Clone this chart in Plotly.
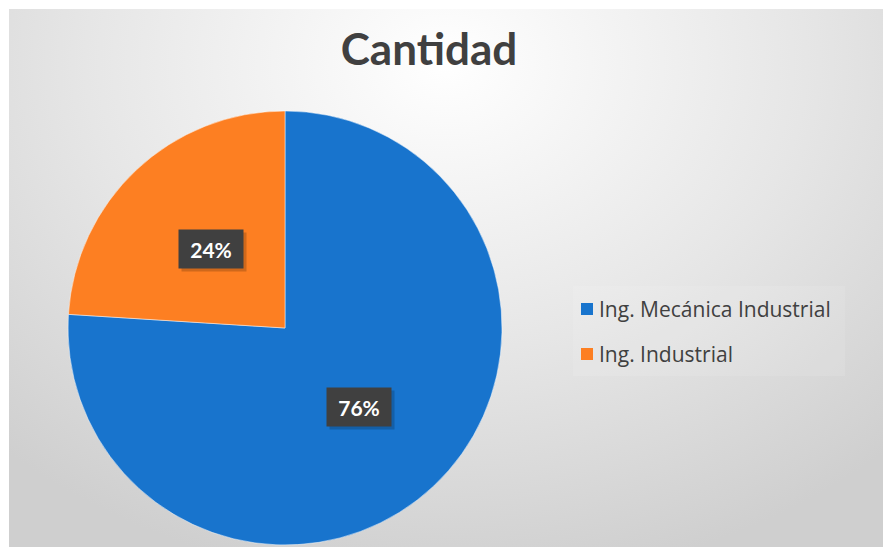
import base64
import math
import plotly.graph_objects as go

# ---- data ----
categories = ["Ing. Mecánica Industrial", "Ing. Industrial"]
values = [76, 24]
colors = ["#1874cd", "#fd7f22"]
title_text = "Cantidad"

W, H = 883, 547
BORDER = 9  # white frame on the left and top of the reference

# background radial gradient (svg data uri)
BW, BH = W - BORDER, H - BORDER
svg = f'''<svg xmlns="http://www.w3.org/2000/svg" width="{BW}" height="{BH}" viewBox="0 0 {BW} {BH}" preserveAspectRatio="none">
<defs><radialGradient id="g" cx="0.5" cy="0.1" r="0.75" gradientUnits="objectBoundingBox" gradientTransform="translate(0.5 0.1) scale(1 1.3) translate(-0.5 -0.1)">
<stop offset="0" stop-color="#ffffff"/><stop offset="0.55" stop-color="#e6e6e6"/><stop offset="1" stop-color="#cfcfcf"/></radialGradient></defs>
<rect x="0" y="0" width="{BW}" height="{BH}" fill="url(#g)"/></svg>'''
bg_src = "data:image/svg+xml;base64," + base64.b64encode(svg.encode()).decode()

def px(x):
    return x / W

def py(y):
    return 1 - y / H

# pie geometry in pixels
cx_px, cy_px, R = 285, 328, 217
dom_x = [px(cx_px - R), px(cx_px + R)]
dom_y = [py(cy_px + R), py(cy_px - R)]

fig = go.Figure(go.Pie(
    labels=categories, values=values, sort=False, direction="clockwise", rotation=0,
    marker=dict(colors=colors, line=dict(color="rgba(255,255,255,0.6)", width=0.8)),
    textinfo="none", hoverinfo="label+percent", showlegend=False,
    domain=dict(x=dom_x, y=dom_y),
))

annotations = []
shapes = []
total = sum(values)
cum = 0
for v in values:
    start = 90 - 360 * cum / total
    mid = math.radians(start - 360 * v / total / 2)
    cum += v
    dx = 0.5 * R * math.cos(mid)
    dy = 0.5 * R * math.sin(mid)
    x = px(cx_px + dx)
    y = py(cy_px - dy)
    pct = f"{round(100 * v / total)}%"
    # shadow
    annotations.append(dict(x=x + 3 / W, y=y - 3 / H, xref="paper", yref="paper", text=" ",
                            xanchor="center", yanchor="middle",
                            showarrow=False, bgcolor="rgba(0,0,0,0.18)", width=48, height=22,
                            borderpad=8, font=dict(size=21)))
    annotations.append(dict(x=x, y=y, xref="paper", yref="paper", text=f"<b>{pct}</b>",
                            xanchor="center", yanchor="middle",
                            showarrow=False, bgcolor="#404040", width=48, height=22, borderpad=8,
                            font=dict(family="Lato", size=21, color="white")))

# legend (manual)
leg_x0 = 581
leg_y = [309, 354]
shapes.append(dict(type="rect", xref="paper", yref="paper", x0=px(573), x1=px(845),
                   y0=py(376), y1=py(286), fillcolor="rgba(255,255,255,0.1)",
                   line=dict(width=0), layer="below"))
for cat, col, ly in zip(categories, colors, leg_y):
    shapes.append(dict(type="rect", xref="paper", yref="paper", x0=px(leg_x0), x1=px(leg_x0 + 12),
                       y0=py(ly + 6), y1=py(ly - 6), fillcolor=col, line=dict(width=0)))
    annotations.append(dict(x=px(leg_x0 + 16), y=py(ly), xref="paper", yref="paper",
                            xanchor="left", yanchor="middle", text=cat, showarrow=False,
                            font=dict(family="Open Sans", size=21, color="#404040")))

fig.update_layout(
    width=W, height=H, margin=dict(l=0, r=0, t=0, b=0),
    paper_bgcolor="white", plot_bgcolor="white",
    title=dict(text=f"<b>{title_text}</b>", x=px(429), xanchor="center", y=py(50), yanchor="middle",
               font=dict(family="Lato", size=44, color="#404040")),
    images=[dict(source=bg_src, xref="paper", yref="paper", x=px(BORDER), y=py(BORDER),
                 sizex=BW / W, sizey=BH / H, xanchor="left", yanchor="top",
                 sizing="stretch", layer="below")],
    annotations=annotations, shapes=shapes,
)

fig.write_html("out.html", config={"displayModeBar": False},
               post_script="document.body.style.margin='0';document.body.style.overflow='hidden';")
